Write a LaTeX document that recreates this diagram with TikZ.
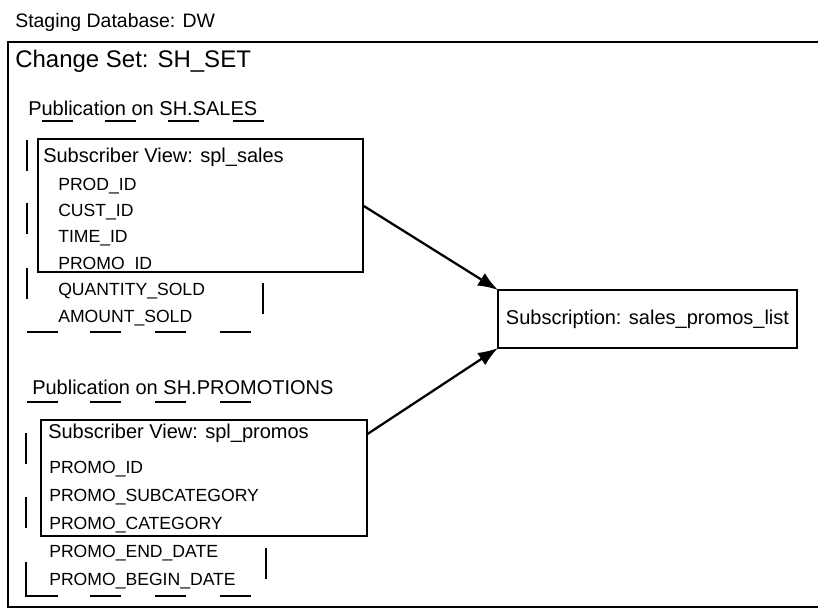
\documentclass[tikz,border=0pt]{standalone}
\usepackage{fontspec}
\setmainfont{Liberation Sans}
\usetikzlibrary{positioning,arrows.meta}

\tikzset{
  lbl/.style={anchor=base west, inner sep=0pt, font=\fontsize{15}{18}\selectfont},
  fld/.style={anchor=base west, inner sep=0pt, font=\fontsize{13.2}{16}\selectfont},
  viewbox/.style={draw, line width=1.8pt, fill=white, anchor=north west, inner sep=0pt, outer sep=0pt},
  dashseg/.style={line width=1.8pt},
  flow/.style={-{Latex[length=15pt,width=11pt]}, line width=1.7pt}
}

\begin{document}
\begin{tikzpicture}[
        x=0.75pt,y=-0.75pt,
        line cap=butt,line join=miter
        ]
        % ---- page (pixel grid, y down)
        \useasboundingbox (0,0) rectangle (818,608);
        \clip (0,0) rectangle (818,608);

        % ---- titles and outer frame (runs past the right edge)
        \node[lbl, font=\fontsize{14.6}{17}\selectfont] (stage) at (15,27) {Staging Database: DW};
        \draw[line width=2.2pt] (830,42) -- (8,42) -- (8,607) -- (830,607);
        \node[lbl, font=\fontsize{18}{21}\selectfont] (chset) at (15,67) {Change Set: SH\_SET};

        % ---- publication on SH.SALES
        \node[lbl] (pubsales) at (28,115) {Publication on SH.SALES};
        \foreach \x in {42,105,168,233} \draw[dashseg] (\x,121) -- ++(31,0);
        \foreach \x in {27,90,155,220}  \draw[dashseg] (\x,332) -- ++(31,0);
        \foreach \y in {140,203,268}    \draw[dashseg] (27,\y) -- ++(0,31);
        \draw[dashseg] (263,283) -- ++(0,31);

        \node[viewbox, minimum width=325*0.75pt, minimum height=133*0.75pt] (viewsales) at (38,139) {};
        \node[lbl] (salestitle) at (43,162) {Subscriber View: spl\_sales};
        \foreach \f [count=\i from 0] in {PROD\_ID,CUST\_ID,TIME\_ID,PROMO\_ID,QUANTITY\_SOLD,AMOUNT\_SOLD}{
                \node[fld] (sf\i) at (58,{190+26.4*\i}) {\f};
        }

        % ---- publication on SH.PROMOTIONS
        \node[lbl] (pubpromo) at (32,394) {Publication on SH.PROMOTIONS};
        \foreach \x in {27,90,155,220}{
                \draw[dashseg] (\x,402) -- ++(31,0);
                \draw[dashseg] (\x,596) -- ++(31,0);
        }
        \foreach \y in {433,497}        \draw[dashseg] (26,\y) -- ++(0,31);
        \draw[dashseg] (26,562) -- (26,597.2);
        \draw[dashseg] (266,548) -- ++(0,31);

        \node[viewbox, minimum width=326*0.75pt, minimum height=116*0.75pt] (viewpromo) at (41,420) {};
        \node[lbl] (promotitle) at (48,438) {Subscriber View: spl\_promos};
        \foreach \f [count=\i from 0] in {PROMO\_ID,PROMO\_SUBCATEGORY,PROMO\_CATEGORY,PROMO\_END\_DATE,PROMO\_BEGIN\_DATE}{
                \node[fld] (pf\i) at (49,{473+28*\i}) {\f};
        }

        % ---- subscription
        \node[viewbox, minimum width=299*0.75pt, minimum height=58*0.75pt, font=\fontsize{15}{18}\selectfont] (sub) at (498,290) {Subscription: sales\_promos\_list};

        \draw[flow] (viewsales.east) -- (sub.north west);
        \draw[flow] (viewpromo.15) -- (sub.south west);
\end{tikzpicture}
\end{document}
